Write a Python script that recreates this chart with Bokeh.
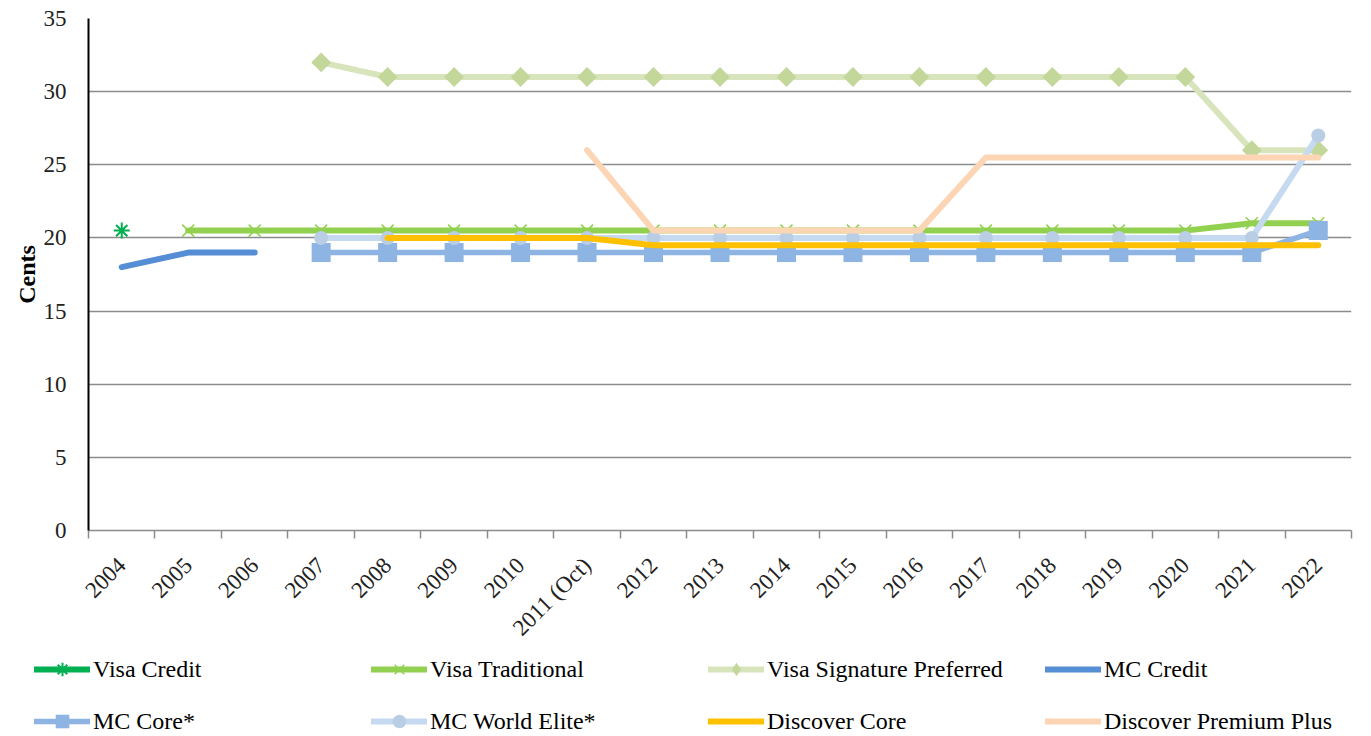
import math
from bokeh.plotting import figure
from bokeh.models import FixedTicker, Legend, LegendItem, ColumnDataSource
from bokeh.embed import file_html
from bokeh.resources import INLINE

nan = float("nan")

years = ["2004", "2005", "2006", "2007", "2008", "2009", "2010", "2011 (Oct)",
         "2012", "2013", "2014", "2015", "2016", "2017", "2018", "2019",
         "2020", "2021", "2022"]

visa_credit = [20.5] + [nan] * 18
visa_traditional = [nan, 20.5, 20.5, 20.5, 20.5, 20.5, 20.5, 20.5, 20.5, 20.5,
                    20.5, 20.5, 20.5, 20.5, 20.5, 20.5, 20.5, 21, 21]
visa_signature = [nan, nan, nan, 32, 31, 31, 31, 31, 31, 31, 31, 31, 31, 31,
                  31, 31, 31, 26, 26]
mc_credit = [18, 19, 19] + [nan] * 16
mc_core = [nan, nan, nan, 19, 19, 19, 19, 19, 19, 19, 19, 19, 19, 19, 19, 19,
           19, 19, 20.5]
mc_world_elite = [nan, nan, nan, 20, 20, 20, 20, 20, 20, 20, 20, 20, 20, 20,
                  20, 20, 20, 20, 27]
discover_core = [nan, nan, nan, nan, 20, 20, 20, 20, 19.5, 19.5, 19.5, 19.5,
                 19.5, 19.5, 19.5, 19.5, 19.5, 19.5, 19.5]
discover_premium = [nan, nan, nan, nan, nan, nan, nan, 26, 20.5, 20.5, 20.5,
                    20.5, 20.5, 25.5, 25.5, 25.5, 25.5, 25.5, 25.5]

y_ticks = [0, 5, 10, 15, 20, 25, 30, 35]

FONT = "Liberation Serif"

xc = [i + 0.5 for i in range(len(years))]

MAIN_H = 652
p = figure(width=1371, height=MAIN_H, x_range=(0, len(years)), y_range=(0, 35),
           output_backend="svg", toolbar_location=None,
           min_border_left=88, min_border_right=20, min_border_top=18,
           min_border_bottom=MAIN_H - 532)
p.outline_line_color = None
p.background_fill_color = "white"
p.border_fill_color = "white"

# grid
p.xgrid.grid_line_color = None
p.ygrid.grid_line_color = "#8c8c8c"
p.ygrid.grid_line_width = 1.5
p.yaxis.ticker = FixedTicker(ticks=y_ticks)

# y axis
p.yaxis.axis_line_color = "black"
p.yaxis.axis_line_width = 2
p.yaxis.major_tick_line_color = None
p.yaxis.minor_tick_line_color = None
p.yaxis.major_tick_out = 0
p.yaxis.major_label_standoff = 22
p.yaxis.major_label_text_font = FONT
p.yaxis.major_label_text_font_size = "23px"
p.yaxis.major_label_text_color = "#222222"
p.yaxis.axis_label = "Cents"
p.yaxis.axis_label_text_font = FONT
p.yaxis.axis_label_text_font_style = "bold"
p.yaxis.axis_label_text_font_size = "24px"
p.yaxis.axis_label_text_color = "black"
p.yaxis.axis_label_standoff = 1

# x axis
p.xaxis.ticker = FixedTicker(ticks=xc, minor_ticks=list(range(len(years) + 1)))
p.xaxis.major_label_overrides = {x: y for x, y in zip(xc, years)}
p.xaxis.major_tick_line_color = None
p.xaxis.major_tick_out = 0
p.xaxis.major_tick_in = 0
p.xaxis.minor_tick_line_color = "#8c8c8c"
p.xaxis.minor_tick_line_width = 1.5
p.xaxis.minor_tick_out = 8
p.xaxis.minor_tick_in = 0
p.xaxis.axis_line_color = "#8c8c8c"
p.xaxis.axis_line_width = 1.5
p.xaxis.major_label_orientation = math.pi / 4
p.xaxis.major_label_standoff = 23
p.xaxis.major_label_text_font = FONT
p.xaxis.major_label_text_font_size = "23px"
p.xaxis.major_label_text_color = "#222222"

# name, values, line colour, line width, marker (plot), marker (legend),
# marker colour, marker size, marker angle
series = [
    ("Visa Credit", visa_credit, "#00B050", 6, "asterisk", "asterisk", "#00B050", 16, 0),
    ("Visa Traditional", visa_traditional, "#92D050", 6, "x", "x", "#92D050", 17, 0),
    ("Visa Signature Preferred", visa_signature, "#D8E4BC", 6, "square", "diamond", "#C4D79B", 14, math.pi / 4),
    ("MC Credit", mc_credit, "#558ED5", 6, None, None, None, 0, 0),
    ("MC Core*", mc_core, "#8DB4E2", 5.5, "square", "square", "#8DB4E2", 19, 0),
    ("MC World Elite*", mc_world_elite, "#C5D9F1", 6, "circle", "circle", "#B9CDE5", 14, 0),
    ("Discover Core", discover_core, "#FFC000", 6, None, None, None, 0, 0),
    ("Discover Premium Plus", discover_premium, "#FCD5B5", 6, None, None, None, 0, 0),
]

# legend figure (below the chart)
LEG_H = 736 - MAIN_H
lg = figure(width=1371, height=LEG_H, x_range=(0, 1), y_range=(0, 1),
            output_backend="svg", toolbar_location=None,
            x_axis_type=None, y_axis_type=None,
            min_border_left=0, min_border_right=0, min_border_top=0,
            min_border_bottom=0)
lg.outline_line_color = None
lg.xgrid.grid_line_color = None
lg.ygrid.grid_line_color = None


def add_series(fig, src, lc, lw, marker, mc, ms, ang):
    rs = [fig.line("x", "y", source=src, line_color=lc, line_width=lw,
                   line_join="round", line_cap="round")]
    if marker:
        if marker in ("x", "asterisk"):
            r = fig.scatter("x", "y", source=src, marker=marker, size=ms,
                            line_color=mc,
                            line_width=2 if marker == "asterisk" else 1.5,
                            fill_color=None)
        else:
            r = fig.scatter("x", "y", source=src, marker=marker, size=ms,
                            angle=ang, fill_color=mc, line_color=None)
        rs.append(r)
    return rs


items = []
for name, vals, lc, lw, marker, lmarker, mc, ms, ang in series:
    src = ColumnDataSource(dict(x=xc, y=vals))
    add_series(p, src, lc, lw, marker, mc, ms, ang)
    blank = ColumnDataSource(dict(x=[nan], y=[nan]))
    rs = add_series(lg, blank, lc, lw, lmarker, mc, ms, 0)
    items.append(LegendItem(label=name, renderers=rs))

legend = Legend(items=items, location=(34, -2), orientation="horizontal",
                ncols=4, glyph_width=56, glyph_height=34, label_standoff=3,
                label_width=260, label_height=34, spacing=18, padding=0,
                margin=0, border_line_color=None, background_fill_alpha=0,
                label_text_font=FONT, label_text_font_size="24px",
                label_text_color="black")
lg.add_layout(legend, "center")

open("out.html", "w").write(file_html([p, lg], INLINE))
